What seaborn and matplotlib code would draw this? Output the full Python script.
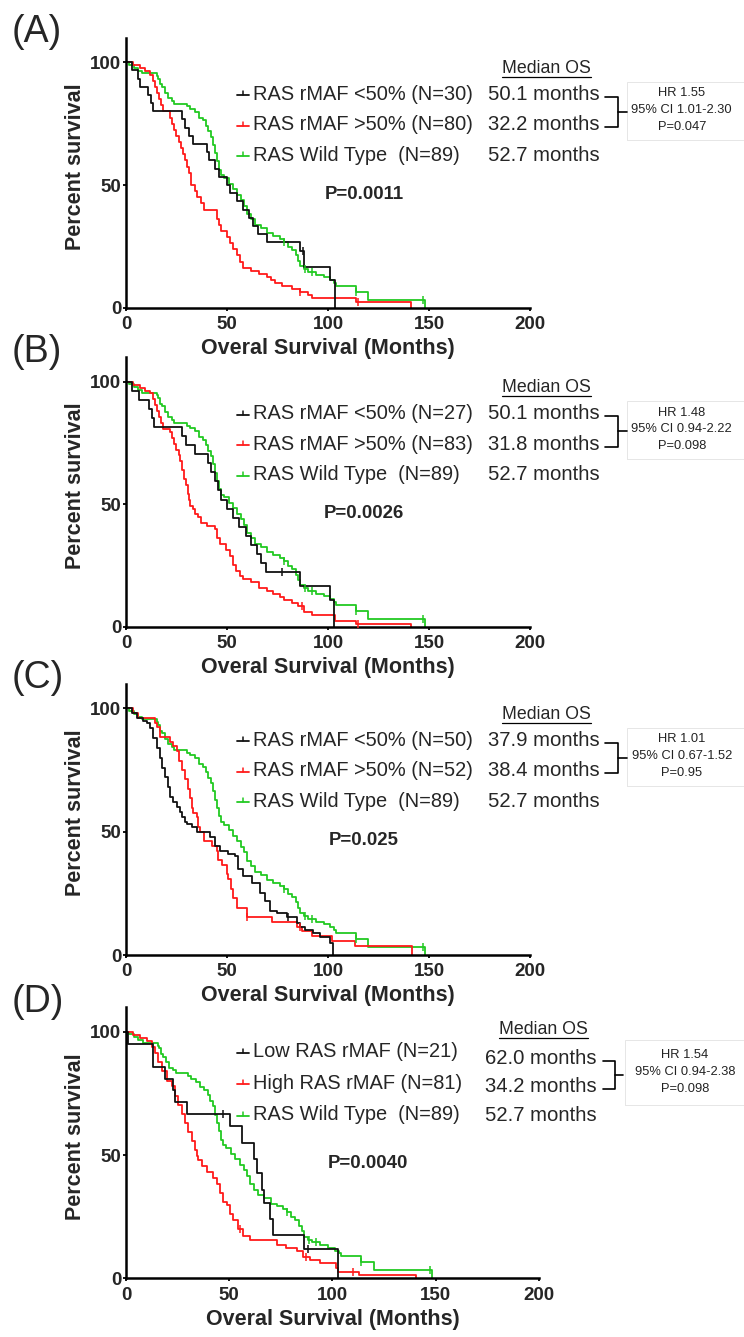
"""
Kaplan-Meier overall survival by RAS rMAF group, four panels (A-D).
"""

import numpy as np
import pandas as pd
import matplotlib
matplotlib.use("Agg")
import matplotlib.pyplot as plt
from matplotlib.lines import Line2D
from matplotlib.patches import Rectangle
import seaborn as sns

# ─── Data ─────────────────────────────────────────────────────────────────────

month_ticks = [0, 50, 100, 150, 200]
pct_ticks = [0, 50, 100]

# (month, percent surviving) at every step; same wild-type arm in all panels
wild_type = [(0, 100), (1.5, 98.9), (4, 97.8), (6, 96.6), (8, 95.5), (15.5, 94.4),
             (16, 93.3), (17, 91.0), (18, 89.9), (19.5, 87.6), (21, 85.4), (23, 84.3),
             (24, 83.1), (30, 82.0), (31.5, 80.9), (34, 79.8), (36, 77.5), (38, 76.4),
             (39.5, 74.2), (40.5, 71.9), (42, 69.7), (43, 66.3), (44, 62.9), (45, 59.6),
             (46, 56.2), (47, 53.9), (48.5, 52.8), (51, 50.6), (53, 48.3), (55, 46.1),
             (57, 43.8), (58.5, 41.6), (60, 38.2), (62, 36.0), (64, 33.7), (67, 32.6),
             (70, 30.3), (73, 29.2), (76, 28.1), (78, 26.9), (80, 24.7), (82, 23.6),
             (84, 21.3), (85, 19.1), (86, 16.9), (88, 15.7), (90, 14.6), (94, 13.5),
             (98, 12.4), (101, 11.2), (103, 10.1), (104, 8.9), (114, 6.5), (120, 3.2),
             (148, 0)]

a_low = [(0, 100), (3, 96.7), (6, 93.3), (7, 90.0), (11, 86.7), (12.5, 83.3), (13.5, 80.0),
         (27.5, 76.7), (29, 73.3), (31, 70.0), (33, 66.7), (40, 63.3), (41, 60.0),
         (44, 56.7), (46, 53.3), (50.1, 50.0), (51.5, 46.7), (55, 43.3), (58, 40.0),
         (61, 36.7), (63, 33.3), (65.5, 30.0), (70, 26.7), (86, 23.3), (88, 16.7),
         (101, 11.1), (103.5, 0)]
a_high = [(0, 100), (3.5, 98.8), (7, 97.5), (9.5, 96.3), (12, 95.0), (13.5, 92.5),
          (14.5, 90.0), (15.5, 87.5), (16.5, 85.0), (17.5, 82.5), (18.5, 80.0), (22, 77.5),
          (23, 75.0), (24, 72.5), (25, 70.0), (26, 67.5), (27, 65.0), (28, 62.5),
          (29, 60.0), (30, 57.5), (31, 55.0), (32, 52.5), (32.2, 50.0), (34, 47.5),
          (35, 45.0), (37, 42.5), (38.5, 40.0), (45, 36.3), (46, 33.8), (47, 31.3),
          (50, 28.8), (51.5, 26.3), (53, 23.8), (55, 21.3), (56.5, 18.8), (58, 16.3),
          (62, 15.0), (66, 13.8), (70, 12.5), (72, 11.3), (74, 10.0), (77, 8.8),
          (82, 7.5), (86, 6.3), (90, 5.0), (92, 3.8), (114, 2.5), (141, 0)]

b_low = [(0, 100), (3, 96.3), (6.5, 92.6), (11.5, 88.9), (13, 85.2), (14, 81.5),
         (27.5, 77.8), (29.5, 74.1), (34, 70.4), (40.8, 66.7), (42, 63.0), (44, 59.3),
         (45.5, 55.6), (47, 51.9), (50.1, 48.1), (53, 44.4), (56, 40.7), (59.5, 37.0),
         (62, 33.3), (65, 29.6), (67, 25.9), (69.5, 22.2), (86, 16.7), (101, 11.1),
         (103, 0)]
b_high = [(0, 100), (3.5, 98.8), (7, 97.6), (9.5, 96.4), (12, 95.2), (13.5, 92.8),
          (14.5, 90.4), (15.5, 88.0), (16.5, 85.5), (17.5, 83.1), (18.5, 80.7), (22, 79.5),
          (23, 77.1), (24, 74.7), (25, 72.3), (26, 69.9), (26.5, 67.5), (27.5, 63.9),
          (28.5, 60.2), (29.5, 57.8), (30.5, 54.2), (31, 51.8), (31.8, 49.4), (33, 48.2),
          (34, 45.8), (35.5, 44.6), (37, 42.2), (40, 41.0), (44, 39.8), (45, 36.1),
          (46.5, 33.7), (49.5, 31.3), (51.5, 28.9), (53, 25.3), (54.5, 22.9), (56.5, 20.5),
          (58, 19.3), (62, 18.1), (66, 15.7), (70, 14.5), (73, 13.3), (76, 12.0),
          (78, 10.8), (82, 9.6), (85, 8.4), (88, 6.0), (92, 4.8), (103.5, 2.4),
          (114, 1.2), (141, 0)]

c_low = [(0, 100), (2.8, 98), (5.3, 96), (8.6, 95), (10.2, 94), (11.9, 92), (13.5, 88),
         (15.2, 84), (16.8, 80), (17.7, 76), (19.3, 72), (21, 68), (21.8, 64), (23.4, 62),
         (25.1, 60), (26.7, 58), (27.6, 56), (29.2, 54), (30, 53), (32.5, 52), (35, 50),
         (41.6, 48), (44.1, 44), (46.5, 42), (50.7, 41), (54, 40), (55.6, 35), (58.1, 32),
         (62.2, 29), (66.3, 25), (68.8, 22), (71.3, 18), (74.6, 17), (79.5, 15.5),
         (84.5, 13), (86.1, 11.5), (88.6, 10), (92.7, 8.8), (96, 7.4), (101, 4.7),
         (102.6, 0)]
c_high = [(0, 100), (3.6, 98.1), (6.1, 96.2), (14.4, 94.2), (15.5, 92.3), (16.8, 88.5),
          (21.8, 86.5), (23.4, 84.6), (25.1, 82.7), (26, 78.8), (27.6, 75.0), (29.2, 71.2),
          (30.9, 67.3), (31.7, 63.5), (32.5, 59.6), (33.3, 57.7), (35, 55.8), (35.8, 51.9),
          (36.6, 50.0), (38.4, 46.2), (42.4, 44.2), (44.9, 42.3), (45.7, 38.5), (47.4, 36.5),
          (49.8, 32.7), (50.7, 30.8), (52, 26.9), (53.1, 23.1), (54.8, 19.2), (59.7, 15.4),
          (72.1, 13.5), (84.5, 11.5), (87, 9.6), (91.9, 7.7), (101.8, 5.8), (113.4, 3.8),
          (141.4, 0)]

d_low = [(0, 100), (1, 95.2), (12.9, 90.5), (13.3, 85.7), (18.9, 81.0), (22.9, 76.2),
         (23.5, 71.4), (29.4, 66.7), (50.3, 61.9), (56, 55.0), (62, 48.5), (63.5, 42.5),
         (65.8, 36.0), (67, 30.5), (69.5, 24.0), (71, 17.6), (86, 12.0), (102.7, 0)]
d_high = [(0, 100), (3.5, 98.8), (6.8, 97.5), (10, 96.3), (12.4, 93.8), (14, 91.4),
          (15.6, 87.7), (17.3, 84.0), (19.7, 80.2), (22.1, 77.8), (23.7, 74.1), (25.3, 70.4),
          (26.9, 66.7), (28.5, 63.0), (30.2, 59.3), (31.8, 55.6), (33.4, 51.9), (34.2, 49.4),
          (35, 48.1), (36.6, 45.7), (39, 43.2), (42.3, 40.7), (43.9, 38.3), (45.5, 34.6),
          (47.1, 30.9), (48.7, 29.6), (50.3, 25.9), (51.9, 23.5), (54.4, 19.8), (56.8, 17.3),
          (60, 15.6), (72.9, 13.5), (77.7, 12.2), (82.6, 10.9), (85.8, 8.8), (89, 7.4),
          (93.9, 6.1), (101.9, 4.1), (102.7, 2.7), (113, 1.4), (140.6, 0)]

# censored observations (months)
wild_type_cens = [78, 88.5, 92, 114, 147]
low_cens = [[87.5], [77], [80], [47, 88]]
high_cens = [[86, 115], [87, 115], [60, 86], [55, 87, 110]]

panel_tags = ["(A)", "(B)", "(C)", "(D)"]
low_labels = ["RAS rMAF <50% (N=30)", "RAS rMAF <50% (N=27)",
              "RAS rMAF <50% (N=50)", "Low RAS rMAF (N=21)"]
high_labels = ["RAS rMAF >50% (N=80)", "RAS rMAF >50% (N=83)",
               "RAS rMAF >50% (N=52)", "High RAS rMAF (N=81)"]
wt_label = "RAS Wild Type  (N=89)"
low_median = ["50.1", "50.1", "37.9", "62.0"]
high_median = ["32.2", "31.8", "38.4", "34.2"]
wt_median = "52.7"
hr_vals = ["1.55", "1.48", "1.01", "1.54"]
hr_ci = ["1.01-2.30", "0.94-2.22", "0.67-1.52", "0.94-2.38"]
hr_p = ["0.047", "0.098", "0.95", "0.098"]
logrank_p = ["0.0011", "0.0026", "0.025", "0.0040"]

lows = [a_low, b_low, c_low, d_low]
highs = [a_high, b_high, c_high, d_high]

# ─── Layout (pixels of the 744x1337 canvas) ───────────────────────────────────

W, H = 744, 1337
X0 = 126
Y100 = [62.3, 381.7, 708.3, 1031.7]
YZERO = [307.7, 626.7, 955.0, 1278.3]
XRIGHT = [530, 530, 530, 539]

BLACK, RED, GREEN = "#111111", "#ff1a1a", "#22c922"


def fx(px):
    return px / W


def fy(py):
    return 1 - py / H


def step_value(curve, t):
    ts = np.array([p[0] for p in curve])
    ss = np.array([p[1] for p in curve])
    return ss[np.searchsorted(ts, t, side="right") - 1]


sns.set_theme(style="ticks")
plt.rcParams["font.family"] = ["Liberation Sans", "DejaVu Sans"]

fig = plt.figure(figsize=(W / 100, H / 100), dpi=100)

for i in range(4):
    y100, y0 = Y100[i], YZERO[i]
    unit = (y0 - y100) / 100.0
    top = y0 - 110 * unit
    axw, axh = XRIGHT[i] - X0, y0 - top
    ax = fig.add_axes([fx(X0), fy(y0), axw / W, axh / H])
    ax.set_facecolor("none")   # keep the panel above's x label visible

    for curve, col, cens in ((wild_type, GREEN, wild_type_cens),
                             (highs[i], RED, high_cens[i]),
                             (lows[i], BLACK, low_cens[i])):
        df = pd.DataFrame(curve, columns=["month", "surv"])
        sns.lineplot(data=df, x="month", y="surv", color=col, lw=1.3,
                     drawstyle="steps-post", estimator=None, sort=False, ax=ax)
        cy = [step_value(curve, c) for c in cens]
        sns.scatterplot(x=cens, y=cy, marker="|", s=30, color=col,
                        linewidth=1.1, ax=ax, zorder=3)

    ax.set_xlim(0, 200)
    ax.set_ylim(0, 110)
    ax.set_xticks(month_ticks)
    ax.set_yticks(pct_ticks)
    sns.despine(ax=ax)
    for side in ("left", "bottom"):
        ax.spines[side].set_linewidth(1.8)
        ax.spines[side].set_color("black")
    ax.tick_params(length=2.5, width=1.3, pad=0.8, labelsize=13.5, color="black")
    ax.tick_params(axis="x", pad=3.6)
    for lbl in ax.get_xticklabels() + ax.get_yticklabels():
        lbl.set_fontweight("bold")

    ax.set_xlabel("Overal Survival (Months)", fontsize=15.5, fontweight="bold")
    ax.xaxis.set_label_coords(0.5, -30.5 / axh)
    ax.set_ylabel("Percent survival", fontsize=15.5, fontweight="bold")
    ax.yaxis.set_label_coords((86.3 - X0) / axw, 0.523)

    fig.text(fx(12), fy(y100 - 30), panel_tags[i], fontsize=27, va="center")

    # legend rows, median OS column, HR box
    if i < 3:
        leg_rows = [y100 + 32, y100 + 62.5, y100 + 93]
        med_rows = leg_rows
        med_head = y100 + 6
        hr_rows = [y100 + 31, y100 + 47.7, y100 + 64.4]
        box = (626.7, y100 + 19.4, y100 + 77.7)
        brk = (605, 618.3, 626.7)
        x_med, x_head, x_hr, x_p = 488, 546.5, 681.7, 364
    else:
        leg_rows = [y100 + 20, y100 + 51.6, y100 + 83.3]
        med_rows = [y100 + 26.6, y100 + 55, y100 + 83.4]
        med_head = y100 - 2.4
        hr_rows = [y100 + 23.3, y100 + 40, y100 + 57.6]
        box = (625, y100 + 8.3, y100 + 73.3)
        brk = (603, 615, 623.3)
        x_med, x_head, x_hr, x_p = 485, 543.3, 685, 367.7

    labels = [low_labels[i], high_labels[i], wt_label]
    meds = [low_median[i], high_median[i], wt_median]
    for row, lab, col in zip(leg_rows, labels, [BLACK, RED, GREEN]):
        fig.add_artist(Line2D([fx(237), fx(249)], [fy(row + 1)] * 2, color=col, lw=1.3))
        fig.add_artist(Line2D([fx(243)] * 2, [fy(row + 1), fy(row - 3)], color=col, lw=1.1))
        fig.text(fx(253), fy(row), lab, fontsize=14.4, va="center")
    for row, med in zip(med_rows, meds):
        fig.text(fx(x_med), fy(row), f"{med} months", fontsize=14.6, va="center")

    fig.text(fx(x_head), fy(med_head), "Median OS", fontsize=12.8,
             ha="center", va="center")
    fig.add_artist(Line2D([fx(x_head - 44.5), fx(x_head + 44.5)],
                          [fy(med_head + 8.4)] * 2, color="black", lw=0.9))

    b_top, b_bot = med_rows[0] + 2.5, med_rows[1] + 2.5
    bx0, bx1, bx2 = brk
    fig.add_artist(Line2D([fx(bx0), fx(bx1), fx(bx1), fx(bx0)],
                          [fy(b_top), fy(b_top), fy(b_bot), fy(b_bot)],
                          color="black", lw=1.2))
    fig.add_artist(Line2D([fx(bx1), fx(bx2)], [fy((b_top + b_bot) / 2)] * 2,
                          color="black", lw=1.2))

    bl, bt, bb = box
    fig.add_artist(Rectangle((fx(bl), fy(bb)), fx(760) - fx(bl), (bb - bt) / H,
                             fill=False, edgecolor="#e6e6e6", lw=0.7))
    hr_lines = [f"HR {hr_vals[i]}", f"95% CI {hr_ci[i]}", f"P={hr_p[i]}"]
    for row, txt in zip(hr_rows, hr_lines):
        fig.text(fx(x_hr), fy(row), txt, fontsize=9.3, ha="center", va="center",
                 color="#222222")

    fig.text(fx(x_p), fy(y100 + 132), f"P={logrank_p[i]}", fontsize=13.4,
             fontweight="bold", ha="center", va="center")

fig.savefig("out.png", dpi=100)
plt.close(fig)
